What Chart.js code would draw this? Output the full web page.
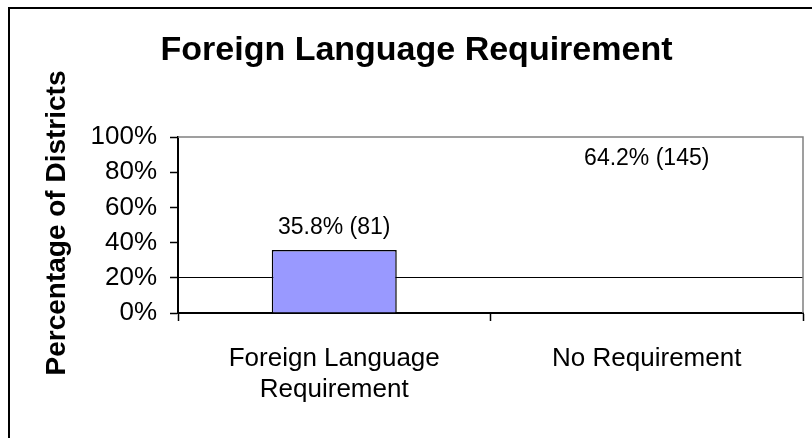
<!DOCTYPE html>
<html><head><meta charset="utf-8">
<script src="https://cdn.jsdelivr.net/npm/chart.js@4"></script>
<style>html,body{margin:0;padding:0;background:#fff}canvas{display:block}</style>
</head><body>
<canvas id="c" width="812" height="438"></canvas>
<script>
const chartTitle = 'Foreign Language Requirement';
const yAxisTitle = 'Percentage of Districts';
const categories = [['Foreign Language', 'Requirement'], 'No Requirement'];
const percentValues = [35.8, 64.2];
const districtCounts = [81, 145];
const yTickValues = [0, 20, 40, 60, 80, 100];

const FONT = "'Liberation Sans', Arial, sans-serif";

const decor = {
  id: 'decor',
  beforeDraw(chart) {
    const {ctx} = chart;
    ctx.save();
    ctx.fillStyle = '#fff';
    ctx.fillRect(0, 0, chart.width, chart.height);
    ctx.restore();
  },
  afterDatasetsDraw(chart, args, opts) {
    const {ctx, chartArea: a} = chart;
    ctx.save();
    // plot area top/right border
    ctx.strokeStyle = '#808080';
    ctx.lineWidth = 1.5;
    ctx.beginPath();
    ctx.moveTo(a.left, a.top);
    ctx.lineTo(a.right, a.top);
    ctx.lineTo(a.right, a.bottom);
    ctx.stroke();

    // value labels
    ctx.fillStyle = '#000';
    ctx.font = '23px ' + FONT;
    ctx.textAlign = 'center';
    ctx.textBaseline = 'alphabetic';
    const meta = chart.getDatasetMeta(0);
    const yScale = chart.scales.y;
    meta.data.forEach((bar, i) => {
      const v = percentValues[i];
      const txt = v.toFixed(1) + '% (' + districtCounts[i] + ')';
      const y = yScale.getPixelForValue(v) - opts.labelGap[i];
      ctx.fillText(txt, bar.x, y);
    });

    // chart title
    ctx.font = 'bold 34px ' + FONT;
    ctx.textAlign = 'center';
    ctx.fillText(chartTitle, 416.5, 60);

    // y axis title
    ctx.save();
    ctx.translate(65, (a.top + a.bottom) / 2 - 2);
    ctx.rotate(-Math.PI / 2);
    ctx.font = 'bold 28px ' + FONT;
    ctx.textAlign = 'center';
    ctx.textBaseline = 'alphabetic';
    ctx.fillText(yAxisTitle, 0, 0);
    ctx.restore();

    // outer frame (extends past canvas right/bottom)
    ctx.strokeStyle = '#000';
    ctx.lineWidth = 2;
    ctx.strokeRect(9, 8, 900, 500);
    ctx.restore();
  }
};

new Chart(document.getElementById('c'), {
  type: 'bar',
  data: {
    labels: categories,
    datasets: [{
      data: percentValues,
      backgroundColor: ['#9999FF', 'rgba(0,0,0,0)'],
      borderColor: ['#000000', 'rgba(0,0,0,0)'],
      borderWidth: 1.5,
      barPercentage: 0.4,
      categoryPercentage: 1.0
    }]
  },
  options: {
    responsive: false,
    animation: false,
    devicePixelRatio: 1,
    layout: { padding: { left: 0, top: 137, right: 9, bottom: 0 } },
    plugins: {
      legend: { display: false },
      title: { display: false },
      tooltip: { enabled: false },
      decor: { labelGap: [16, 35] }
    },
    scales: {
      y: {
        min: 0, max: 100,
        afterFit(scale) { scale.width = 178; },
        afterBuildTicks(scale) { scale.ticks = yTickValues.map(v => ({value: v})); },
        ticks: {
          stepSize: 20,
          padding: 13,
          color: '#000',
          font: { family: FONT, size: 26 },
          callback: v => v + '%'
        },
        grid: {
          drawOnChartArea: true,
          color: ctx => (ctx.tick && ctx.tick.value === 20) ? '#000' : 'rgba(0,0,0,0)',
          lineWidth: 1,
          tickLength: 8,
          tickColor: '#000',
          tickWidth: 1.5
        },
        border: { display: true, color: '#000', width: 2 }
      },
      x: {
        offset: true,
        afterFit(scale) { scale.height = 125; },
        ticks: {
          padding: 22,
          color: '#000',
          maxRotation: 0,
          autoSkip: false,
          font: { family: FONT, size: 26 }
        },
        grid: {
          offset: true,
          drawOnChartArea: false,
          tickLength: 8,
          tickColor: '#000',
          tickWidth: 1.5
        },
        border: { display: true, color: '#000', width: 2 }
      }
    }
  },
  plugins: [decor]
});
</script>
</body></html>
